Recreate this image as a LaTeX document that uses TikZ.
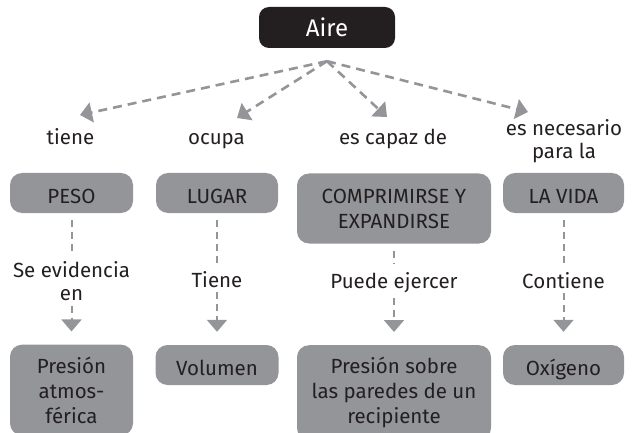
\documentclass[tikz,border=0pt]{standalone}
\usepackage{fontspec}
\setmainfont{Fira Sans}
\usetikzlibrary{arrows.meta}
\definecolor{boxgray}{RGB}{147,149,152}
\definecolor{ink}{RGB}{35,31,32}
\tikzset{
  raiz/.style={fill=ink, text=white, rounded corners=10pt, minimum width=136pt,
    minimum height=41pt, font=\fontsize{24}{28}\selectfont},
  cajon/.style={fill=boxgray, text=ink, rounded corners=12pt, align=center,
    font=\fontsize{20.5}{25}\selectfont, inner xsep=0pt, inner ysep=12pt, minimum height=40pt},
  simple/.style={text height=20pt, text depth=0pt, inner ysep=10pt},
  etiq/.style={text=ink, align=center, font=\fontsize{20.5}{23}\selectfont, inner sep=0pt},
  punta/.style={-{Triangle[width=20pt,length=12pt]}},
  flecha/.style={draw=boxgray, line width=2.6pt, dash pattern=on 9pt off 6pt, punta},
  guion/.style={draw=boxgray, line width=2pt, dash pattern=on 7pt off 5pt}
}
\begin{document}
\begin{tikzpicture}[x=1pt, y=-1pt]
  \useasboundingbox (0,0) rectangle (632,433);
  \clip (0,0) rectangle (632,433);
  \draw
    (327,27.5) node[raiz] (aire){Aire}
    (70.5,145) node[etiq, anchor=base] (tiene){tiene}
    (216.5,145) node[etiq, anchor=base] (ocupa){ocupa}
    (393,145) node[etiq, anchor=base] (capaz){es capaz de}
    (564,141.6) node[etiq] (necesario){es necesario\\para la}
    (71.5,193) node[cajon, simple, minimum width=123pt] (peso){PESO}
    (217,193) node[cajon, simple, minimum width=122pt] (lugar){LUGAR}
    (394,208.5) node[cajon, minimum width=194pt, minimum height=70pt] (comp){COMPRIMIRSE Y\\EXPANDIRSE}
    (563.5,193) node[cajon, simple, minimum width=121pt] (vida){LA VIDA}
    (71.5,281) node[etiq] (evid){Se evidencia\\en}
    (217,287) node[etiq, anchor=base] (tiene2){Tiene}
    (394,288) node[etiq, anchor=base] (ejercer){Puede ejercer}
    (563.5,288) node[etiq, anchor=base] (contiene){Contiene}
    (71.5,390) node[cajon, minimum width=123pt] (presion){Presión\\atmos-\\férica}
    (217,365) node[cajon, simple, minimum width=123pt] (volumen){Volumen}
    (394,392.6) node[cajon, minimum width=194pt] (sobre){Presión sobre\\las paredes de un\\recipiente}
    (563.5,365) node[cajon, simple, minimum width=121pt] (oxigeno){Oxígeno};
  \coordinate (hub) at ([yshift=-13pt]aire.south);
  \coordinate (p1) at (80,115);
  \coordinate (p2) at (237,118);
  \coordinate (p3) at (387,117);
  \coordinate (p4) at (528,112);
  \begin{scope}[flecha]
    \draw (hub) to (p1);
    \draw (hub) to (p2);
    \draw (hub) to (p3);
    \draw (hub) to (p4);
  \end{scope}
  \begin{scope}[guion]
    \draw[shorten <=7pt, shorten >=8pt] (peso) to (evid);
    \draw[shorten <=7pt, shorten >=8pt] (lugar) to (tiene2);
    \draw[shorten <=7pt, shorten >=8pt] (comp) to (ejercer);
    \draw[shorten <=7pt, shorten >=8pt] (vida) to (contiene);
    \draw[punta, shorten <=5pt, shorten >=13pt] (evid) to (presion);
    \draw[punta, shorten <=5pt, shorten >=13pt] (tiene2) to (volumen);
    \draw[punta, shorten <=5pt, shorten >=13pt] (ejercer) to (sobre);
    \draw[punta, shorten <=5pt, shorten >=13pt] (contiene) to (oxigeno);
  \end{scope}
\end{tikzpicture}
\end{document}
